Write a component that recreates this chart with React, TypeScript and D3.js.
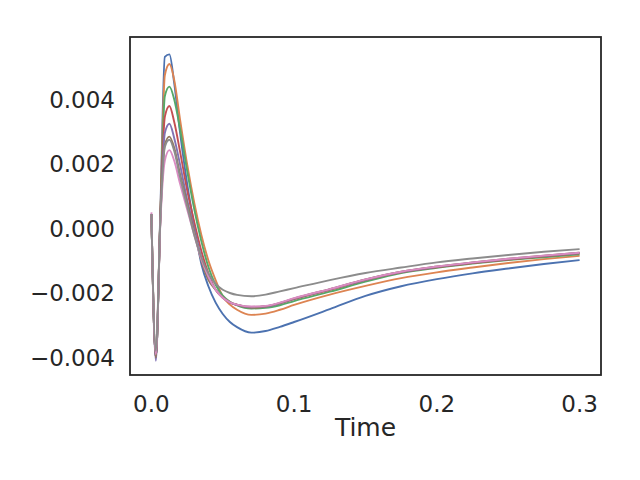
import React from "react";
import * as d3 from "d3";

const TIME = [0, 0.0031, 0.0063, 0.0094, 0.0126, 0.016, 0.02, 0.025, 0.03, 0.035, 0.04, 0.045, 0.05, 0.055, 0.06, 0.07, 0.08, 0.09, 0.1, 0.125, 0.15, 0.175, 0.2, 0.225, 0.25, 0.275, 0.3];

const BLUE = [0.00045, -0.004, 0.0006, 0.00532, 0.0054, 0.0045, 0.003, 0.0014, 0.0001, -0.0011, -0.0018, -0.0023, -0.00265, -0.0029, -0.00306, -0.00323, -0.00318, -0.00305, -0.0029, -0.0025, -0.00209, -0.00179, -0.00157, -0.00139, -0.00124, -0.0011, -0.00098];
const ORANGE = [0.00045, -0.004, 0.0005, 0.00475, 0.0051, 0.0046, 0.0034, 0.002, 0.0008, -0.0002, -0.001, -0.0016, -0.0021, -0.00236, -0.00252, -0.00268, -0.00264, -0.00252, -0.00237, -0.00205, -0.00178, -0.00154, -0.00136, -0.00121, -0.00107, -0.00095, -0.00085];
const GREEN = [0.00045, -0.004, 0.0004, 0.0041, 0.0044, 0.004, 0.0031, 0.0018, 0.0006, -0.0004, -0.0012, -0.00175, -0.00208, -0.00227, -0.00238, -0.00248, -0.00246, -0.00238, -0.00225, -0.00196, -0.00165, -0.00138, -0.00122, -0.00109, -0.00098, -0.00089, -0.0008];
const RED = [0.00045, -0.004, 0.0004, 0.00346, 0.0038, 0.0033, 0.0024, 0.0012, 0.0002, -0.0007, -0.0014, -0.0019, -0.00215, -0.0023, -0.00237, -0.00245, -0.00242, -0.00232, -0.00219, -0.0019, -0.0016, -0.00136, -0.0012, -0.00107, -0.00096, -0.00086, -0.00077];
const PURPLE = [0.00045, -0.0041, 0.0003, 0.00296, 0.00325, 0.0028, 0.002, 0.0009, 0.0, -0.0009, -0.0015, -0.0019, -0.00214, -0.00229, -0.00237, -0.00244, -0.00242, -0.00232, -0.00218, -0.00189, -0.00159, -0.00135, -0.00119, -0.00106, -0.00095, -0.00085, -0.00076];
const BROWN = [0.00045, -0.004, 0.0003, 0.0026, 0.00285, 0.0025, 0.0017, 0.0008, -0.0001, -0.001, -0.0016, -0.0019, -0.00213, -0.00228, -0.00236, -0.00243, -0.00241, -0.00231, -0.00217, -0.00188, -0.00158, -0.00134, -0.00118, -0.00105, -0.00094, -0.00084, -0.00075];
const PINK = [0.0005, -0.0039, 0.0002, 0.0021, 0.00243, 0.0021, 0.0014, 0.0006, -0.0002, -0.00095, -0.0015, -0.0019, -0.00215, -0.00229, -0.00236, -0.00242, -0.0024, -0.0023, -0.00216, -0.00188, -0.00158, -0.00134, -0.00118, -0.00105, -0.00094, -0.00084, -0.00075];
const GRAY = [0.00045, -0.0038, 0.0003, 0.00253, 0.00275, 0.0024, 0.0016, 0.0007, -0.0002, -0.0009, -0.0014, -0.00172, -0.0019, -0.002, -0.00206, -0.0021, -0.00205, -0.00195, -0.00185, -0.0016, -0.00138, -0.00121, -0.00105, -0.00093, -0.00082, -0.00072, -0.00064];

// seaborn "deep" palette, in draw order
const SERIES = [BLUE, ORANGE, GREEN, RED, PURPLE, BROWN, PINK, GRAY];
const COLORS = ["#4C72B0", "#DD8452", "#55A868", "#C44E52", "#8172B3", "#937860", "#DA8BC3", "#8C8C8C"];

const X_TICKS = [0, 0.1, 0.2, 0.3];
const Y_TICKS = [-0.004, -0.002, 0, 0.002, 0.004];
const X_LABEL = "Time";

const W = 640;
const H = 480;
const M = { top: 37, right: 39, bottom: 105, left: 130 };
const INK = "#262626";
const FONT = "DejaVu Sans";

export default function App() {
  const iW = W - M.left - M.right;
  const iH = H - M.top - M.bottom;

  const x = d3.scaleLinear().domain([-0.015, 0.315]).range([0, iW]);
  const y = d3.scaleLinear().domain([-0.004543, 0.005938]).range([iH, 0]);

  const line = d3.line<number>()
    .x((_, i) => x(TIME[i]))
    .y(d => y(d))
    .curve(d3.curveMonotoneX);

  const fmtY = (v: number) => {
    const s = Math.abs(v).toFixed(3);
    return v < 0 ? `\u2212${s}` : s;
  };

  return (
    <svg width={W} height={H} style={{ position: "absolute", left: 0, top: 0, background: "#fff" }}
      fontFamily={FONT}>
      <g transform={`translate(${M.left},${M.top})`}>
        {SERIES.map((s, i) => (
          <path key={i} d={line(s) ?? ""} fill="none" stroke={COLORS[i]}
            strokeWidth={1.9} strokeLinejoin="round" />
        ))}

        <rect x={0} y={0} width={iW} height={iH} fill="none" stroke={INK} strokeWidth={1.8} />

        {X_TICKS.map(t => (
          <text key={t} x={x(t)} y={iH + 37} textAnchor="middle" fontSize={23} fill={INK}>
            {t.toFixed(1)}
          </text>
        ))}
        {Y_TICKS.map(t => (
          <text key={t} x={-15} y={y(t)} dy="0.36em" textAnchor="end" fontSize={23} fill={INK}>
            {fmtY(t)}
          </text>
        ))}

        <text x={iW / 2} y={iH + 61} textAnchor="middle" fontSize={25} fill={INK}>{X_LABEL}</text>
      </g>
    </svg>
  );
}
